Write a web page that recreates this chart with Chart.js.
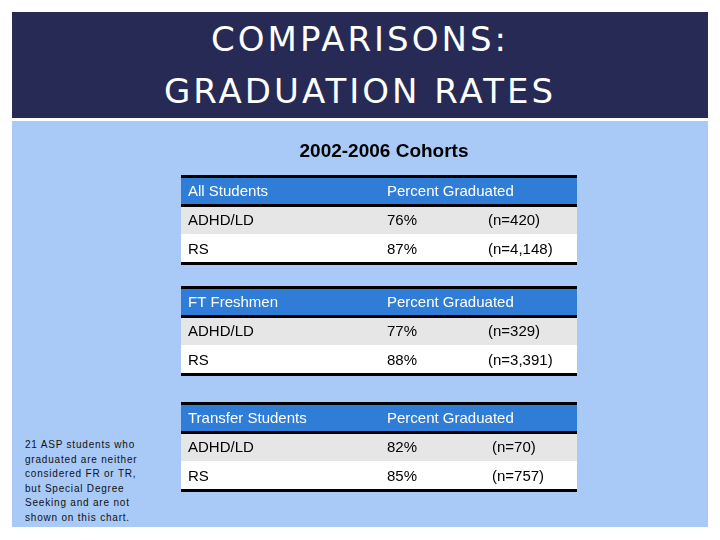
<!DOCTYPE html>
<html>
<head>
<meta charset="utf-8">
<script src="https://cdn.jsdelivr.net/npm/chart.js@4"></script>
<style>
  body { margin: 0; width: 720px; height: 540px; background: #fff; position: relative; overflow: hidden; font-family: "Liberation Sans", Arial, sans-serif; }
  #head { position: absolute; left: 12px; top: 12px; width: 696px; height: 106px; background: #262a55; color: #fff;
          text-align: center; font-family: "DejaVu Sans", sans-serif; font-size: 34px; letter-spacing: 3px; line-height: 52px; padding-top: 1px; box-sizing: border-box; }
  #body { position: absolute; left: 12px; top: 121px; width: 696px; height: 406px; background: #a9c9f6; }
  #note { position: absolute; left: 25px; top: 438px; width: 130px; font-size: 10px; line-height: 14.5px; letter-spacing: 0.8px; color: #111; }
  #wrap { position: absolute; left: 0; top: 0; width: 720px; height: 540px; }
</style>
</head>
<body>
<div id="head">COMPARISONS:<br>GRADUATION RATES</div>
<div id="body"></div>
<div id="note">21 ASP students who graduated are neither considered FR or TR, but Special Degree Seeking and are not shown on this chart.</div>
<div id="wrap"><canvas id="c" width="720" height="540"></canvas></div>
<script>
const title = "2002-2006 Cohorts";
const groups = ["All Students", "FT Freshmen", "Transfer Students"];
const rowLabels = ["ADHD/LD", "RS"];
const percents = [[76, 87], [77, 88], [82, 85]];
const counts = [["420", "4,148"], ["329", "3,391"], ["70", "757"]];
const colHeader = "Percent Graduated";

const tableTops = [176, 287, 403];
const nX = [488, 488, 492];

const tablePlugin = {
  id: 'tables',
  afterDraw(chart) {
    const ctx = chart.ctx;
    ctx.save();
    ctx.fillStyle = '#000';
    ctx.font = 'bold 19px "Liberation Sans", Arial';
    ctx.textAlign = 'center';
    ctx.textBaseline = 'middle';
    ctx.fillText(title, 384, 152);
    ctx.textAlign = 'left';
    groups.forEach((g, i) => {
      const top = tableTops[i], left = 181, w = 396, rh = 29;
      ctx.fillStyle = '#2f7dd6';
      ctx.fillRect(left, top, w, rh);
      ctx.fillStyle = '#e6e6e6';
      ctx.fillRect(left, top + rh, w, rh);
      ctx.fillStyle = '#ffffff';
      ctx.fillRect(left, top + 2 * rh, w, rh);
      ctx.fillStyle = '#000';
      ctx.fillRect(left, top - 1, w, 3);
      ctx.fillRect(left, top + rh - 1, w, 3);
      ctx.fillRect(left, top + 3 * rh - 1, w, 3);
      ctx.font = '15px "Liberation Sans", Arial';
      ctx.fillStyle = '#fff';
      ctx.fillText(g, 188, top + rh / 2 + 1);
      ctx.fillText(colHeader, 387, top + rh / 2 + 1);
      ctx.fillStyle = '#000';
      rowLabels.forEach((r, j) => {
        const y = top + rh * (j + 1) + rh / 2 + 1;
        ctx.fillText(r, 188, y);
        ctx.fillText(percents[i][j] + '%', 387, y);
        ctx.fillText('(n=' + counts[i][j] + ')', nX[i], y);
      });
    });
    ctx.restore();
  }
};

new Chart(document.getElementById('c'), {
  type: 'bar',
  data: { labels: groups, datasets: [{ data: percents.map(p => p[0]), backgroundColor: 'rgba(0,0,0,0)' }] },
  options: {
    responsive: false, animation: false, devicePixelRatio: 1,
    plugins: { legend: { display: false }, tooltip: { enabled: false } },
    scales: { x: { display: false }, y: { display: false } }
  },
  plugins: [tablePlugin]
});
</script>
</body>
</html>
